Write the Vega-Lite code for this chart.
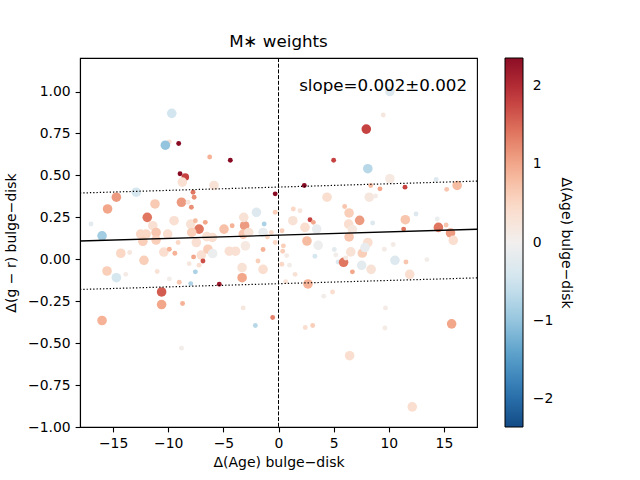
{
  "$schema": "https://vega.github.io/schema/vega-lite/v6.json",
  "width": 397,
  "height": 369,
  "autosize": "none",
  "padding": {"left": 80, "top": 58, "right": 163, "bottom": 53},
  "background": "white",
  "title": {"text": "M∗ weights", "fontSize": 16.7, "fontWeight": "normal", "font": "DejaVu Sans", "color": "black", "offset": 7},
  "config": {
    "font": "DejaVu Sans",
    "view": {"stroke": "black", "strokeWidth": 1.1},
    "axis": {
      "grid": false, "domainColor": "black", "domainWidth": 1.1, "tickColor": "black", "tickSize": 4.9, "tickWidth": 1.1,
      "labelFontSize": 13.9, "labelColor": "black", "labelPadding": 4.9, "labelFont": "DejaVu Sans",
      "titleFontSize": 14, "titleFontWeight": "normal", "titleColor": "black", "titleFont": "DejaVu Sans"
    }
  },
  "datasets": {
    "pts": [
      {"dage": -9.68, "dgr": 0.87, "dc": -0.45, "w": 3},
      {"dage": -9.9, "dgr": 0.70, "dc": 0.3, "w": 1},
      {"dage": -10.26, "dgr": 0.68, "dc": -1.0, "w": 3},
      {"dage": -9.05, "dgr": 0.69, "dc": 2.4, "w": 1},
      {"dage": -6.24, "dgr": 0.61, "dc": 0.9, "w": 1},
      {"dage": -4.37, "dgr": 0.59, "dc": 2.4, "w": 1},
      {"dage": -8.93, "dgr": 0.51, "dc": 2.4, "w": 1},
      {"dage": -8.45, "dgr": 0.49, "dc": 1.8, "w": 2},
      {"dage": -8.72, "dgr": 0.46, "dc": 0.35, "w": 3},
      {"dage": -5.85, "dgr": 0.44, "dc": 0.3, "w": 3},
      {"dage": -7.75, "dgr": 0.40, "dc": 1.4, "w": 1},
      {"dage": -7.65, "dgr": 0.37, "dc": 1.2, "w": 1},
      {"dage": -12.9, "dgr": 0.40, "dc": -0.4, "w": 3},
      {"dage": -0.3, "dgr": 0.39, "dc": 2.4, "w": 1},
      {"dage": -14.7, "dgr": 0.37, "dc": 1.1, "w": 3},
      {"dage": -11.2, "dgr": 0.33, "dc": 0.65, "w": 3},
      {"dage": -8.8, "dgr": 0.34, "dc": 1.1, "w": 3},
      {"dage": -8.2, "dgr": 0.34, "dc": 0.25, "w": 1},
      {"dage": -7.9, "dgr": 0.31, "dc": 1.2, "w": 1},
      {"dage": -15.5, "dgr": 0.30, "dc": 1.0, "w": 3},
      {"dage": -2.0, "dgr": 0.28, "dc": -0.3, "w": 3},
      {"dage": -0.3, "dgr": 0.28, "dc": 0.6, "w": 1},
      {"dage": -11.9, "dgr": 0.25, "dc": 1.4, "w": 3},
      {"dage": -11.4, "dgr": 0.20, "dc": 0.35, "w": 3},
      {"dage": -9.47, "dgr": 0.23, "dc": 0.35, "w": 3},
      {"dage": -7.96, "dgr": 0.21, "dc": 0.3, "w": 3},
      {"dage": -7.54, "dgr": 0.23, "dc": 0.8, "w": 1},
      {"dage": -6.64, "dgr": 0.22, "dc": 1.0, "w": 1},
      {"dage": -7.2, "dgr": 0.18, "dc": 1.4, "w": 3},
      {"dage": -4.94, "dgr": 0.18, "dc": 0.75, "w": 3},
      {"dage": -4.2, "dgr": 0.20, "dc": 0.9, "w": 1},
      {"dage": -3.07, "dgr": 0.20, "dc": 1.1, "w": 3},
      {"dage": -3.15, "dgr": 0.25, "dc": 0.3, "w": 3},
      {"dage": -17.0, "dgr": 0.21, "dc": -0.2, "w": 1},
      {"dage": -16.0, "dgr": 0.14, "dc": -0.9, "w": 3},
      {"dage": -1.3, "dgr": 0.21, "dc": -0.8, "w": 1},
      {"dage": -1.4, "dgr": 0.16, "dc": -0.15, "w": 3},
      {"dage": -0.65, "dgr": 0.16, "dc": 0.45, "w": 1},
      {"dage": -12.5, "dgr": 0.15, "dc": 0.5, "w": 3},
      {"dage": -12.0, "dgr": 0.15, "dc": 0.5, "w": 3},
      {"dage": -11.1, "dgr": 0.16, "dc": 0.7, "w": 3},
      {"dage": -10.05, "dgr": 0.15, "dc": 0.4, "w": 3},
      {"dage": -7.87, "dgr": 0.16, "dc": 0.6, "w": 3},
      {"dage": -6.0, "dgr": 0.13, "dc": 0.4, "w": 3},
      {"dage": -6.5, "dgr": 0.135, "dc": 0.35, "w": 3},
      {"dage": -3.2, "dgr": 0.15, "dc": 0.7, "w": 3},
      {"dage": -2.7, "dgr": 0.16, "dc": 0.3, "w": 3},
      {"dage": -14.3, "dgr": 0.036, "dc": 0.5, "w": 3},
      {"dage": -13.5, "dgr": 0.04, "dc": 0.2, "w": 1},
      {"dage": -12.2, "dgr": -0.006, "dc": 0.6, "w": 3},
      {"dage": -15.55, "dgr": -0.07, "dc": 0.6, "w": 3},
      {"dage": -12.3, "dgr": 0.107, "dc": 0.6, "w": 3},
      {"dage": -11.1, "dgr": 0.115, "dc": 0.6, "w": 3},
      {"dage": -10.4, "dgr": 0.043, "dc": 0.4, "w": 3},
      {"dage": -9.9, "dgr": 0.06, "dc": 0.9, "w": 1},
      {"dage": -9.4, "dgr": 0.036, "dc": 0.9, "w": 1},
      {"dage": -9.1, "dgr": 0.10, "dc": 0.5, "w": 1},
      {"dage": -7.7, "dgr": 0.014, "dc": 1.0, "w": 1},
      {"dage": -7.0, "dgr": 0.025, "dc": 0.35, "w": 3},
      {"dage": -6.85, "dgr": -0.01, "dc": 1.7, "w": 1},
      {"dage": -8.1, "dgr": -0.026, "dc": 0.2, "w": 1},
      {"dage": -7.2, "dgr": -0.035, "dc": 0.4, "w": 1},
      {"dage": -6.4, "dgr": 0.06, "dc": 0.6, "w": 3},
      {"dage": -7.45, "dgr": 0.10, "dc": 0.35, "w": 3},
      {"dage": -14.7, "dgr": -0.11, "dc": -0.4, "w": 3},
      {"dage": -13.85, "dgr": -0.09, "dc": 0.1, "w": 1},
      {"dage": -11.0, "dgr": -0.073, "dc": 0.3, "w": 1},
      {"dage": -9.9, "dgr": -0.117, "dc": 0.05, "w": 1},
      {"dage": -9.0, "dgr": -0.137, "dc": 0.7, "w": 1},
      {"dage": -7.96, "dgr": -0.145, "dc": -0.8, "w": 1},
      {"dage": -7.54, "dgr": -0.075, "dc": -0.8, "w": 1},
      {"dage": -10.6, "dgr": -0.195, "dc": 1.6, "w": 3},
      {"dage": -10.6, "dgr": -0.27, "dc": 1.0, "w": 3},
      {"dage": -8.7, "dgr": -0.264, "dc": 0.9, "w": 1},
      {"dage": -16.0, "dgr": -0.365, "dc": 0.9, "w": 3},
      {"dage": -8.8, "dgr": -0.53, "dc": 0.05, "w": 1},
      {"dage": -5.37, "dgr": -0.149, "dc": 2.2, "w": 1},
      {"dage": -3.2, "dgr": -0.29, "dc": 0.2, "w": 1},
      {"dage": -2.1, "dgr": -0.395, "dc": -0.7, "w": 1},
      {"dage": -0.53, "dgr": -0.347, "dc": 1.3, "w": 1},
      {"dage": -3.3, "dgr": -0.11, "dc": 1.0, "w": 3},
      {"dage": -3.3, "dgr": -0.05, "dc": 0.3, "w": 3},
      {"dage": -1.4, "dgr": -0.06, "dc": 0.4, "w": 3},
      {"dage": -1.86, "dgr": -0.01, "dc": 0.6, "w": 1},
      {"dage": -1.4, "dgr": 0.058, "dc": 0.9, "w": 1},
      {"dage": -0.3, "dgr": 0.10, "dc": 0.5, "w": 1},
      {"dage": -3.0, "dgr": 0.08, "dc": 0.15, "w": 3},
      {"dage": -4.46, "dgr": 0.048, "dc": 0.35, "w": 3},
      {"dage": -3.9, "dgr": 0.048, "dc": 0.35, "w": 3},
      {"dage": -5.97, "dgr": 0.034, "dc": -0.1, "w": 3},
      {"dage": 2.34, "dgr": 0.44, "dc": 2.4, "w": 1},
      {"dage": 4.4, "dgr": 0.37, "dc": 0.4, "w": 3},
      {"dage": 1.34, "dgr": 0.30, "dc": 0.5, "w": 1},
      {"dage": 1.95, "dgr": 0.29, "dc": 0.25, "w": 1},
      {"dage": 1.3, "dgr": 0.23, "dc": 0.3, "w": 3},
      {"dage": 2.86, "dgr": 0.236, "dc": 1.8, "w": 1},
      {"dage": 3.16, "dgr": 0.22, "dc": 1.0, "w": 1},
      {"dage": 2.4, "dgr": 0.19, "dc": 0.4, "w": 3},
      {"dage": 3.46, "dgr": 0.18, "dc": -0.15, "w": 3},
      {"dage": 0.32, "dgr": 0.17, "dc": 0.6, "w": 1},
      {"dage": -1.0, "dgr": 0.133, "dc": 0.5, "w": 1},
      {"dage": 0.44, "dgr": 0.08, "dc": 0.6, "w": 1},
      {"dage": 0.38, "dgr": 0.048, "dc": 0.6, "w": 1},
      {"dage": 2.58, "dgr": 0.109, "dc": 0.8, "w": 3},
      {"dage": 3.6, "dgr": 0.083, "dc": -0.05, "w": 3},
      {"dage": 5.06, "dgr": 0.058, "dc": -0.2, "w": 1},
      {"dage": 3.3, "dgr": 0.018, "dc": -0.4, "w": 1},
      {"dage": 5.4, "dgr": -0.016, "dc": -0.3, "w": 1},
      {"dage": 0.74, "dgr": 0.022, "dc": 0.1, "w": 1},
      {"dage": 1.0, "dgr": -0.035, "dc": 0.05, "w": 1},
      {"dage": 0.3, "dgr": -0.03, "dc": 0.5, "w": 1},
      {"dage": 10.1, "dgr": 1.0, "dc": -0.3, "w": 3},
      {"dage": 9.5, "dgr": 0.86, "dc": 0.2, "w": 1},
      {"dage": 7.96, "dgr": 0.776, "dc": 1.8, "w": 3},
      {"dage": 5.0, "dgr": 0.59, "dc": 1.8, "w": 1},
      {"dage": 8.1, "dgr": 0.54, "dc": -0.7, "w": 3},
      {"dage": 10.1, "dgr": 0.48, "dc": 0.15, "w": 3},
      {"dage": 14.3, "dgr": 0.476, "dc": -0.3, "w": 1},
      {"dage": 16.2, "dgr": 0.44, "dc": 0.8, "w": 3},
      {"dage": 15.25, "dgr": 0.417, "dc": 0.7, "w": 1},
      {"dage": 11.47, "dgr": 0.43, "dc": 1.8, "w": 1},
      {"dage": 9.2, "dgr": 0.42, "dc": 1.0, "w": 1},
      {"dage": 8.36, "dgr": 0.44, "dc": 0.8, "w": 1},
      {"dage": 8.23, "dgr": 0.37, "dc": 0.2, "w": 3},
      {"dage": 8.8, "dgr": 0.377, "dc": 0.1, "w": 1},
      {"dage": 6.0, "dgr": 0.315, "dc": 0.7, "w": 1},
      {"dage": 6.4, "dgr": 0.276, "dc": 0.6, "w": 3},
      {"dage": 7.36, "dgr": 0.232, "dc": 1.1, "w": 3},
      {"dage": 6.36, "dgr": 0.21, "dc": 0.4, "w": 3},
      {"dage": 6.7, "dgr": 0.177, "dc": 0.2, "w": 3},
      {"dage": 6.4, "dgr": 0.133, "dc": 0.7, "w": 3},
      {"dage": 8.1, "dgr": 0.10, "dc": 0.4, "w": 3},
      {"dage": 8.54, "dgr": 0.216, "dc": -0.3, "w": 1},
      {"dage": 12.47, "dgr": 0.27, "dc": -0.3, "w": 1},
      {"dage": 11.5, "dgr": 0.236, "dc": 0.7, "w": 3},
      {"dage": 11.35, "dgr": 0.18, "dc": 1.4, "w": 1},
      {"dage": 14.4, "dgr": 0.24, "dc": -0.1, "w": 1},
      {"dage": 14.5, "dgr": 0.19, "dc": 1.4, "w": 3},
      {"dage": 15.2, "dgr": 0.204, "dc": 0.7, "w": 1},
      {"dage": 15.6, "dgr": 0.157, "dc": 1.1, "w": 3},
      {"dage": 15.85, "dgr": 0.113, "dc": 0.4, "w": 3},
      {"dage": 7.6, "dgr": 0.037, "dc": 0.6, "w": 3},
      {"dage": 7.84, "dgr": 0.07, "dc": -0.15, "w": 3},
      {"dage": 6.55, "dgr": 0.044, "dc": 0.3, "w": 3},
      {"dage": 5.2, "dgr": 0.026, "dc": 0.05, "w": 1},
      {"dage": 5.9, "dgr": -0.018, "dc": 1.4, "w": 3},
      {"dage": 9.6, "dgr": 0.06, "dc": 0.1, "w": 1},
      {"dage": 10.4, "dgr": 0.088, "dc": 0.1, "w": 1},
      {"dage": 10.56, "dgr": -0.006, "dc": -0.3, "w": 3},
      {"dage": 11.56, "dgr": -0.016, "dc": 0.7, "w": 1},
      {"dage": 13.46, "dgr": -0.002, "dc": 0.05, "w": 1},
      {"dage": 7.54, "dgr": -0.036, "dc": -0.2, "w": 3},
      {"dage": 8.4, "dgr": -0.06, "dc": 0.3, "w": 3},
      {"dage": 6.7, "dgr": -0.075, "dc": 1.0, "w": 1},
      {"dage": 6.1, "dgr": 0.008, "dc": 0.15, "w": 1},
      {"dage": 11.9, "dgr": -0.09, "dc": 0.4, "w": 3},
      {"dage": 1.5, "dgr": -0.09, "dc": 0.3, "w": 1},
      {"dage": 0.65, "dgr": -0.133, "dc": 0.3, "w": 1},
      {"dage": 2.67, "dgr": -0.147, "dc": 0.9, "w": 3},
      {"dage": 4.1, "dgr": -0.22, "dc": 0.05, "w": 1},
      {"dage": 4.9, "dgr": -0.195, "dc": 0.4, "w": 1},
      {"dage": 9.7, "dgr": -0.29, "dc": 0.1, "w": 1},
      {"dage": 9.65, "dgr": -0.41, "dc": 0.1, "w": 1},
      {"dage": 2.43, "dgr": -0.407, "dc": 0.4, "w": 1},
      {"dage": 3.1, "dgr": -0.395, "dc": 0.6, "w": 1},
      {"dage": 15.7, "dgr": -0.385, "dc": 1.0, "w": 3},
      {"dage": 6.45, "dgr": -0.575, "dc": 0.4, "w": 3},
      {"dage": 12.13, "dgr": -0.88, "dc": 0.4, "w": 3}
    ],
    "fit": [
      {"dage": -18, "dgr": 0.109},
      {"dage": 18, "dgr": 0.179}
    ],
    "band": [
      {"dage": -18, "dgr": 0.395, "side": "upper"},
      {"dage": 18, "dgr": 0.466, "side": "upper"},
      {"dage": -18, "dgr": -0.18, "side": "lower"},
      {"dage": 18, "dgr": -0.111, "side": "lower"}
    ],
    "zero": [
      {"dage": 0}
    ],
    "note": [
      {"dage": 17.1, "dgr": 1.036, "label": "slope=0.002±0.002"}
    ]
  },
  "layer": [
    {
      "data": {"name": "pts"},
      "mark": {"type": "circle", "opacity": 1},
      "encoding": {
        "x": {"field": "dage", "type": "quantitative", "scale": {"domain": [-18, 18], "nice": false, "zero": false},
          "axis": {"values": [-15, -10, -5, 0, 5, 10, 15], "title": "Δ(Age) bulge−disk", "titlePadding": 5}},
        "y": {"field": "dgr", "type": "quantitative", "scale": {"domain": [-1, 1.2], "nice": false, "zero": false},
          "axis": {"values": [-1, -0.75, -0.5, -0.25, 0, 0.25, 0.5, 0.75, 1], "format": ".2f", "title": "Δ(g − r) bulge−disk", "titlePadding": 9}},
        "color": {"field": "dc", "type": "quantitative",
          "scale": {"scheme": "redblue", "reverse": true, "domain": [-2.36, 2.36]},
          "legend": {
            "title": "Δ(Age) bulge−disk", "orient": "right", "offset": 25, "direction": "vertical", "padding": 0,
            "gradientLength": 369, "gradientThickness": 18, "gradientStrokeColor": "black", "gradientStrokeWidth": 1,
            "values": [-2, -1, 0, 1, 2], "labelFontSize": 13.9, "labelColor": "black", "labelOffset": 9.8, "labelOverlap": false,
            "titleOrient": "right", "titleAnchor": "middle", "titleFontSize": 14, "titleFontWeight": "normal", "titleColor": "black", "titlePadding": 6,
            "encode": {"title": {"update": {"angle": {"value": 90}}}}
          }},
        "size": {"field": "w", "type": "quantitative", "scale": {"domain": [1, 3], "range": [24, 92]}, "legend": null}
      }
    },
    {
      "data": {"name": "fit"},
      "mark": {"type": "line", "color": "black", "strokeWidth": 1.3},
      "encoding": {
        "x": {"field": "dage", "type": "quantitative", "scale": {"domain": [-18, 18], "nice": false, "zero": false}},
        "y": {"field": "dgr", "type": "quantitative", "scale": {"domain": [-1, 1.2], "nice": false, "zero": false}}
      }
    },
    {
      "data": {"name": "band"},
      "mark": {"type": "line", "color": "black", "strokeWidth": 1.2, "strokeDash": [1.3, 2]},
      "encoding": {
        "x": {"field": "dage", "type": "quantitative", "scale": {"domain": [-18, 18], "nice": false, "zero": false}},
        "y": {"field": "dgr", "type": "quantitative", "scale": {"domain": [-1, 1.2], "nice": false, "zero": false}},
        "detail": {"field": "side"}
      }
    },
    {
      "data": {"name": "zero"},
      "mark": {"type": "rule", "color": "black", "strokeWidth": 1, "strokeDash": [4, 1.7]},
      "encoding": {
        "x": {"field": "dage", "type": "quantitative", "scale": {"domain": [-18, 18], "nice": false, "zero": false}}
      }
    },
    {
      "data": {"name": "note"},
      "mark": {"type": "text", "align": "right", "baseline": "middle", "fontSize": 16.7, "color": "black", "font": "DejaVu Sans"},
      "encoding": {
        "x": {"field": "dage", "type": "quantitative", "scale": {"domain": [-18, 18], "nice": false, "zero": false}},
        "y": {"field": "dgr", "type": "quantitative", "scale": {"domain": [-1, 1.2], "nice": false, "zero": false}},
        "text": {"field": "label"}
      }
    }
  ]
}
